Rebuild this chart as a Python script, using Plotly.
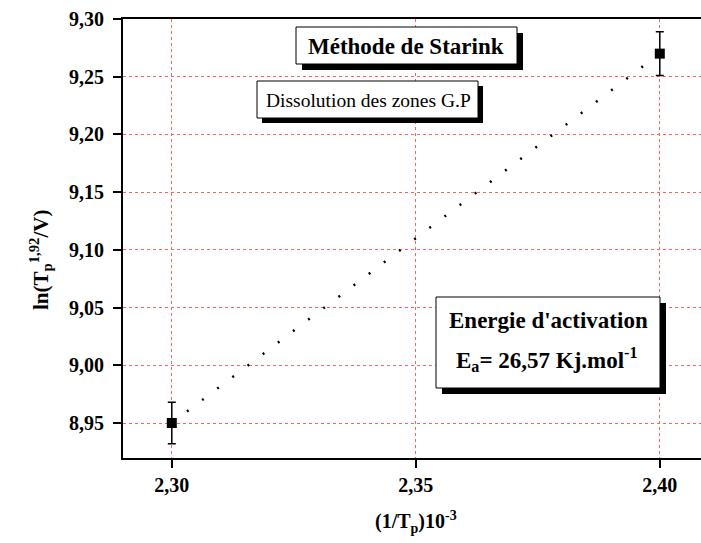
import plotly.graph_objects as go

# Data
x_inv_tp = [2.30, 2.40]
y_ln = [8.95, 9.27]
y_err = [0.018, 0.019]
fit_x = [2.30, 2.40]
fit_y = [8.95, 9.27]
x_ticks = [2.30, 2.35, 2.40]
y_ticks = [8.95, 9.00, 9.05, 9.10, 9.15, 9.20, 9.25, 9.30]

W, H = 701, 543
L, R_px, T, B_px = 123, 701, 19, 458

def px(xp):
    return (xp - L) / (R_px - L)

def py(yp):
    return (B_px - yp) / (B_px - T)

fig = go.Figure()
fig.add_trace(go.Scatter(x=fit_x, y=fit_y, mode="lines",
                         line=dict(color="black", width=2.5, dash="2px,17px"),
                         showlegend=False, hoverinfo="skip"))
fig.add_trace(go.Scatter(x=x_inv_tp, y=y_ln, mode="markers",
                         marker=dict(symbol="square", size=10, color="black"),
                         error_y=dict(type="data", array=y_err, color="black", thickness=1.5, width=4),
                         showlegend=False))

FONT = "Liberation Serif"

shapes = []
annotations = []

def label(xc, yc, text, size, bold, angle=0):
    annotations.append(dict(xref="paper", yref="paper", x=px(xc), y=py(yc),
                            text=text, showarrow=False, xanchor="center", yanchor="middle",
                            textangle=angle,
                            font=dict(family=FONT, size=size, color="black",
                                      weight="bold" if bold else "normal")))

def box(x0, y0, x1, y1, off):
    shapes.append(dict(type="rect", xref="paper", yref="paper",
                       x0=px(x0 + off), x1=px(x1 + off), y0=py(y1 + off), y1=py(y0 + off),
                       fillcolor="black", line=dict(width=0), layer="above"))
    shapes.append(dict(type="rect", xref="paper", yref="paper",
                       x0=px(x0), x1=px(x1), y0=py(y1), y1=py(y0),
                       fillcolor="white", line=dict(color="black", width=1), layer="above"))

box(296, 27, 517, 64, 6)
label(406, 46, "Méthode de Starink", 23, True)
box(257, 81, 478, 118, 5)
label(368, 100, "Dissolution des zones G.P", 19.5, False)
box(436, 297, 660, 388, 6)
label(548, 320, "Energie d'activation", 23, True)
label(547, 359, "E<sub>a</sub>= 26,57 Kj.mol<sup>-1</sup>", 23, True)

label(40, 260, "ln(T<sub>p</sub><sup>1,92</sup>/V)", 21, True, -90)
label(416, 522, "(1/T<sub>p</sub>)10<sup>-3</sup>", 20, True)

grid_col = "#ff6060"
tick_font = dict(family=FONT, size=20, color="black", weight="bold")

fig.update_layout(
    width=W, height=H,
    margin=dict(l=L, r=W - R_px, t=T, b=H - B_px),
    paper_bgcolor="white", plot_bgcolor="white",
    separators=", ",
    shapes=shapes, annotations=annotations,
    xaxis=dict(range=[2.29, 2.29 + (R_px - L) * 0.05 / 244], tickvals=x_ticks, tickformat=".2f",
               showgrid=True, gridcolor=grid_col, griddash="dot", gridwidth=1,
               showline=True, linecolor="black", linewidth=2, mirror=True,
               ticks="outside", ticklen=8, tickwidth=2, tickcolor="black",
               zeroline=False, tickfont=tick_font),
    yaxis=dict(range=[8.9197, 9.30], tickvals=y_ticks, tickformat=".2f",
               showgrid=True, gridcolor=grid_col, griddash="dot", gridwidth=1,
               showline=True, linecolor="black", linewidth=2,
               ticks="outside", ticklen=8, tickwidth=2, tickcolor="black",
               ticklabelstandoff=5,
               zeroline=False, tickfont=tick_font),
)

fig.write_html("out.html")
